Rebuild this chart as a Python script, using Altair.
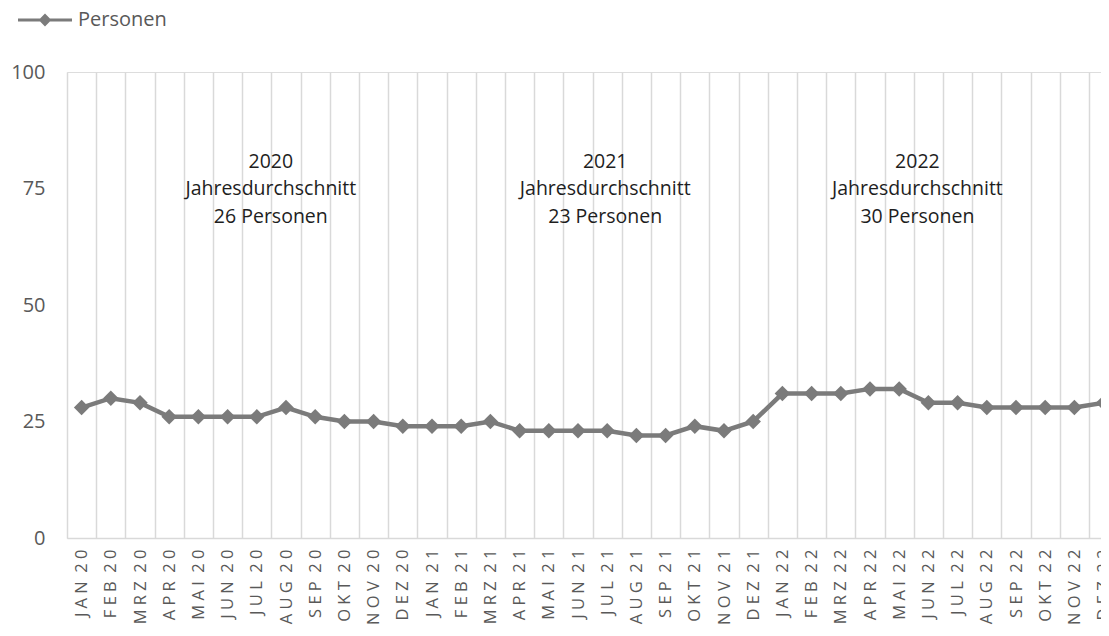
import altair as alt
import pandas as pd

months = ["JAN 20", "FEB 20", "MRZ 20", "APR 20", "MAI 20", "JUN 20", "JUL 20", "AUG 20", "SEP 20", "OKT 20", "NOV 20", "DEZ 20",
          "JAN 21", "FEB 21", "MRZ 21", "APR 21", "MAI 21", "JUN 21", "JUL 21", "AUG 21", "SEP 21", "OKT 21", "NOV 21", "DEZ 21",
          "JAN 22", "FEB 22", "MRZ 22", "APR 22", "MAI 22", "JUN 22", "JUL 22", "AUG 22", "SEP 22", "OKT 22", "NOV 22", "DEZ 22"]
values = [28, 30, 29, 26, 26, 26, 26, 28, 26, 25, 25, 24,
          24, 24, 25, 23, 23, 23, 23, 22, 22, 24, 23, 25,
          31, 31, 31, 32, 32, 29, 29, 28, 28, 28, 28, 29]
series_name = "Personen"

ann_month = ["JUL 20", "JUL 21", "JUN 22"]
ann_text = [["2020", "Jahresdurchschnitt", "26 Personen"],
            ["2021", "Jahresdurchschnitt", "23 Personen"],
            ["2022", "Jahresdurchschnitt", "30 Personen"]]
ann_y = [75, 75, 75]
ann_dx = [14, -2, -11]

FONT = "Open Sans"
GRAY = "#7b7b7b"
LABEL = "#595959"
GRID = "#d9d9d9"


def spaced(m):
    name, yr = m.split(" ")
    return " ".join(name) + "\u00a0\u00a0" + " ".join(yr)


labels = [spaced(m) for m in months]
df = pd.DataFrame({"Monat": labels, "Wert": values, "Serie": [series_name] * len(values)})

band_w = 29.2
x_enc = alt.X(
    "Monat:N", sort=labels, bandPosition=0.5,
    scale=alt.Scale(type="band", paddingInner=0, paddingOuter=0, range=[0, band_w * len(months)]),
    axis=alt.Axis(title=None, labelAngle=-90, labelFont=FONT, labelFontSize=16.5, labelColor=LABEL,
                  labelPadding=11, ticks=False, grid=True, gridColor=GRID, gridWidth=1.5,
                  tickBand="extent", domainColor=GRID, domainWidth=1.5, labelOverlap=False),
)
y_enc = alt.Y(
    "Wert:Q", scale=alt.Scale(domain=[0, 100], nice=False),
    axis=alt.Axis(title=None, values=[0, 25, 50, 75, 100], grid=False, domain=False, ticks=False,
                  labelFont=FONT, labelFontSize=20, labelColor=LABEL, labelPadding=22),
)

# line with a diamond in the middle, for the legend symbol
legend_path = ("M-2.7,-0.16L-0.49,-0.16L0,-0.65L0.49,-0.16L2.7,-0.16L2.7,0.16L0.49,0.16L0,0.65"
               "L-0.49,0.16L-2.7,0.16Z")

base = alt.Chart(df)
line = base.mark_line(color=GRAY, strokeWidth=4.5).encode(x=x_enc, y=y_enc)
points = base.mark_point(filled=True, size=240, opacity=1).encode(
    x=x_enc, y=y_enc,
    color=alt.Color("Serie:N", scale=alt.Scale(range=[GRAY]),
                    legend=alt.Legend(title=None, orient="none", legendX=-33, legendY=-63,
                                      symbolType=legend_path, symbolSize=400, symbolOpacity=1,
                                      labelFont=FONT, labelFontSize=20, labelColor=LABEL,
                                      labelOffset=22, padding=0)),
)

layers = [line, points]
for m, t, yv, dx in zip(ann_month, ann_text, ann_y, ann_dx):
    adf = pd.DataFrame({"Monat": [spaced(m)], "Wert": [yv], "txt": [t]})
    layers.append(
        alt.Chart(adf).mark_text(font=FONT, fontSize=19.5, color="#1e1e1e", lineHeight=27.5,
                                 align="center", baseline="middle", dx=dx, dy=-27).encode(
            x=alt.X("Monat:N", sort=labels, bandPosition=0.5), y="Wert:Q", text="txt")
    )

chart = alt.layer(*layers).properties(
    width=1034, height=466,
    padding={"left": 59, "top": 64, "right": 0, "bottom": 88},
    autosize=alt.AutoSizeParams(type="none"),
).configure_view(stroke=None).configure(background="white").configure_point(shape="diamond")

chart.save("out.html", embed_options={"renderer": "svg", "actions": False})
